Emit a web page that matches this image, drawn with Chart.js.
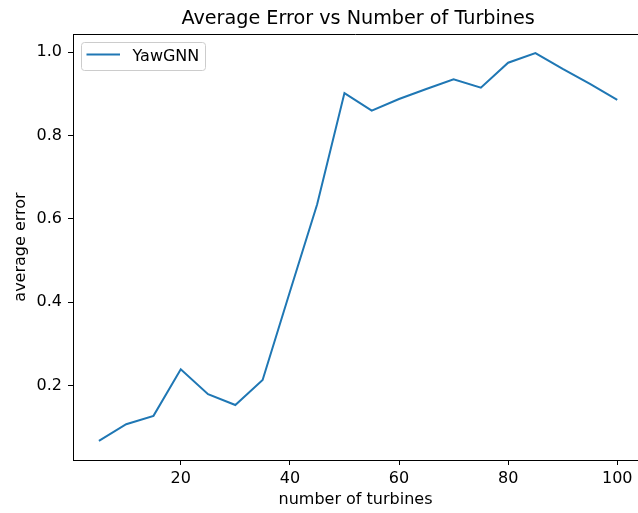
<!DOCTYPE html>
<html>
<head>
<meta charset="utf-8">
<title>Average Error vs Number of Turbines</title>
<script src="https://cdn.jsdelivr.net/npm/chart.js@4"></script>
<style>
  body { margin: 0; background: #fff; overflow: hidden; }
  canvas { display: block; }
</style>
</head>
<body>
<canvas id="chart" width="638" height="513"></canvas>
<script>
// values
const turbines = [5, 10, 15, 20, 25, 30, 35, 40, 45, 50, 55, 60, 65, 70, 75, 80, 85, 90, 95, 100];
const avgError = [0.067, 0.107, 0.127, 0.239, 0.179, 0.153, 0.213, 0.425, 0.635, 0.902,
                  0.860, 0.888, 0.912, 0.935, 0.915, 0.975, 0.998, 0.960, 0.924, 0.886];
const xTickValues = [20, 40, 60, 80, 100];
const yTickValues = [0.2, 0.4, 0.6, 0.8, 1.0];
const seriesName = 'YawGNN';
const chartTitle = 'Average Error vs Number of Turbines';

const FONT = 'DejaVu Sans';
const BLUE = '#1f77b4';
const X_FULL_MAX = 104.75; // matplotlib axis end (the image is cropped before it)

// title, top spine and a matplotlib style legend box
const framePlugin = {
    id: 'frame',
    afterDraw(chart) {
        const ctx = chart.ctx;
        const area = chart.chartArea;
        ctx.save();
        ctx.strokeStyle = '#000';
        ctx.lineWidth = 1;
        ctx.beginPath();
        ctx.moveTo(area.left, area.top + 0.5);
        ctx.lineTo(area.right, area.top + 0.5);
        ctx.stroke();

        // title centred over the full (uncropped) axes
        const fullRight = chart.scales.x.getPixelForValue(X_FULL_MAX);
        ctx.fillStyle = '#000';
        ctx.font = '19.2px "' + FONT + '"';
        ctx.textAlign = 'center';
        ctx.textBaseline = 'alphabetic';
        ctx.fillText(chartTitle, (area.left + fullRight) / 2, 24);

        // legend
        const ds = chart.data.datasets[0];
        const bx = area.left + 8.5, by = area.top + 8.5, bw = 124, bh = 28;
        ctx.fillStyle = 'rgba(255,255,255,0.8)';
        ctx.strokeStyle = '#cccccc';
        ctx.lineWidth = 1;
        ctx.beginPath();
        ctx.roundRect(bx, by, bw, bh, 3);
        ctx.fill();
        ctx.stroke();
        const ly = by + 12;
        ctx.strokeStyle = ds.borderColor;
        ctx.lineWidth = 2;
        ctx.beginPath();
        ctx.moveTo(bx + 5, ly);
        ctx.lineTo(bx + 38.5, ly);
        ctx.stroke();
        ctx.fillStyle = '#000';
        ctx.font = '16px "' + FONT + '"';
        ctx.textBaseline = 'alphabetic';
        ctx.textAlign = 'left';
        ctx.fillText(ds.label, bx + 51, ly + 6.3);
        ctx.restore();
    }
};

new Chart(document.getElementById('chart'), {
    type: 'line',
    data: {
        datasets: [{
            label: seriesName,
            data: turbines.map((t, i) => ({ x: t, y: avgError[i] })),
            borderColor: BLUE,
            backgroundColor: BLUE,
            borderWidth: 2,
            pointRadius: 0,
            tension: 0,
            fill: false
        }]
    },
    options: {
        responsive: false,
        animation: false,
        devicePixelRatio: 1,
        layout: { padding: { top: 34, left: 0, right: 0, bottom: 0 }, autoPadding: false },
        plugins: {
            legend: { display: false },
            tooltip: { enabled: false },
            title: { display: false }
        },
        scales: {
            x: {
                type: 'linear',
                min: 0.25,
                max: 103.8,
                afterBuildTicks: s => { s.ticks = xTickValues.map(v => ({ value: v })); },
                afterFit: s => { s.height = 53; },
                grid: { display: true, drawOnChartArea: false, drawTicks: true, tickLength: 5, color: '#000' },
                border: { display: true, color: '#000', width: 1 },
                ticks: { color: '#000', padding: 4, maxRotation: 0, font: { family: FONT, size: 16 } },
                title: {
                    display: true,
                    text: 'number of turbines',
                    color: '#000',
                    font: { family: FONT, size: 16 },
                    padding: { top: 0, bottom: 3.4 }
                }
            },
            y: {
                type: 'linear',
                min: 0.021,
                max: 1.044,
                afterBuildTicks: s => { s.ticks = yTickValues.map(v => ({ value: v })); },
                afterFit: s => { s.width = 73; },
                grid: { display: true, drawOnChartArea: false, drawTicks: true, tickLength: 5, color: '#000' },
                border: { display: true, color: '#000', width: 1 },
                ticks: {
                    color: '#000',
                    padding: 6,
                    font: { family: FONT, size: 16 },
                    callback: v => v.toFixed(1)
                },
                title: {
                    display: true,
                    text: 'average error',
                    color: '#000',
                    font: { family: FONT, size: 16 },
                    padding: { top: 11.4, bottom: 0 }
                }
            }
        }
    },
    plugins: [framePlugin]
});
</script>
</body>
</html>
